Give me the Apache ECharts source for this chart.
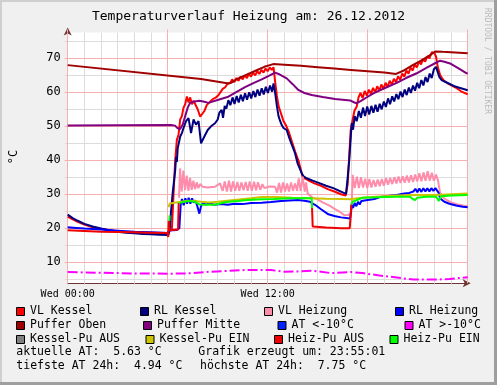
<!DOCTYPE html>
<html><head><meta charset="utf-8">
<script src="https://cdn.jsdelivr.net/npm/echarts@6/dist/echarts.min.js"></script>
<style>html,body{margin:0;padding:0;background:#F0F0F0}#c{width:497px;height:385px}</style>
</head><body><div id="c"></div>
<script>
// ---- data (x = hours since Wed 00:00, y = °C) ----
const titleText = 'Temperaturverlauf Heizung am: 26.12.2012';
const unitText = '°C';
const xLabelValues = [0, 12];
const xLabelTexts = ['Wed 00:00', 'Wed 12:00'];
const yLabelValues = [10, 20, 30, 40, 50, 60, 70];
const yMinorValues = [5, 10, 15, 20, 25, 30, 35, 40, 45, 50, 55, 60, 65, 70, 75];

const seriesNames = ['VL Kessel','RL Kessel','VL Heizung','RL Heizung','Puffer Oben','Puffer Mitte','AT <-10°C','AT >-10°C','Kessel-Pu AUS','Kessel-Pu EIN','Heiz-Pu AUS','Heiz-Pu EIN'];
const seriesColors = ['#FF0000','#000080','#FF8CAA','#0000FF','#A00000','#800080','#0022FF','#FF00FF','#808080','#CCC400','#EE0000','#00FF00'];

const vlKessel = [[0,23.4],[0.3,22.6],[0.6,21.9],[1,21.1],[1.5,20.3],[2,19.8],[2.5,19.4],[3,19.1],[3.5,18.9],[4,18.7],[4.5,18.6],[5,18.5],[5.5,18.4],[5.95,18.3],[6.1,19.5],[6.25,19.6],[6.35,30],[6.45,40],[6.55,46],[6.65,47.5],[6.75,52],[6.85,53],[6.95,55.5],[7.05,56.5],[7.15,58.8],[7.25,57],[7.35,58.5],[7.45,56.5],[7.55,57.5],[7.65,57.2],[7.8,55],[7.95,52.8],[8.05,53.2],[8.2,54.5],[8.35,56.3],[8.5,57],[8.7,58],[8.9,58.5],[9.05,59.2],[9.15,58.7],[9.3,61],[9.45,61.5],[9.6,62.6],[9.75,62.8],[9.87,63.8],[10,63],[10.12,64.2],[10.25,63.4],[10.37,64.6],[10.5,63.8],[10.62,65],[10.75,64.2],[10.87,65.4],[11,64.6],[11.12,65.8],[11.25,65],[11.37,66.2],[11.5,65.4],[11.62,66.6],[11.75,65.8],[11.87,67],[12,66.2],[12.12,67.3],[12.25,66.6],[12.35,67.4],[12.45,63],[12.55,59],[12.65,56],[12.75,54.5],[12.85,53],[12.95,51.5],[13.1,50.2],[13.25,48.6],[13.45,45.5],[13.65,42.5],[13.85,39.8],[14.0,37],[14.1,35],[14.2,34.8],[14.4,34.2],[14.8,33.2],[15.2,32.5],[15.6,31.5],[16.0,30.8],[16.4,30],[16.68,29.6],[16.8,33],[16.9,42],[16.98,48.9],[17.1,52],[17.2,54.5],[17.34,55.8],[17.45,58.5],[17.57,59.8],[17.7,58.3],[17.82,60.4],[17.95,59],[18.07,60.8],[18.2,59.5],[18.32,61.3],[18.45,60],[18.57,61.8],[18.7,60.5],[18.82,62.3],[18.95,61],[19.07,62.8],[19.2,61.6],[19.32,63.4],[19.45,62.3],[19.57,64],[19.7,63],[19.82,64.7],[19.95,63.7],[20.07,65.5],[20.2,64.6],[20.32,66.4],[20.45,65.5],[20.57,67.3],[20.7,66.4],[20.82,68.2],[20.95,67.3],[21.07,69],[21.2,68.2],[21.32,69.8],[21.45,69],[21.57,70.6],[21.7,70],[21.85,71.8],[22.0,71.6],[22.1,70.5],[22.2,67.5],[22.35,65],[22.54,63.6],[22.8,62.6],[23.1,61.8],[23.34,61.2],[23.6,60.3],[24,59.4]];

const rlKessel = [[0,24.0],[0.3,23.0],[0.6,22.2],[1,21.3],[1.5,20.5],[2,19.9],[2.5,19.4],[3,19.0],[3.5,18.7],[4,18.5],[4.5,18.3],[5,18.2],[5.5,18.1],[6.04,18.0],[6.12,19.5],[6.2,25],[6.3,30.5],[6.4,31],[6.45,37],[6.5,41],[6.55,39.5],[6.6,43.5],[6.7,44],[6.75,47],[6.85,48],[6.95,49.5],[7.1,51.5],[7.25,52.4],[7.4,48],[7.55,52],[7.7,50.5],[7.85,51.5],[8.0,45.0],[8.2,47],[8.4,48.9],[8.6,50],[8.84,50.9],[9.0,52],[9.1,54],[9.24,54.8],[9.32,52.5],[9.42,56],[9.52,55.2],[9.64,57.7],[9.76,56.2],[9.89,58.5],[10.01,56.6],[10.14,58.9],[10.26,57],[10.39,59.3],[10.51,57.4],[10.64,59.7],[10.76,57.8],[10.89,60],[11.01,58.2],[11.14,60.4],[11.26,58.6],[11.39,60.8],[11.51,59],[11.64,61.2],[11.76,59.4],[11.89,61.6],[12.01,59.8],[12.14,62],[12.26,60.2],[12.35,62.6],[12.45,59.7],[12.55,56],[12.65,53],[12.75,51.5],[12.85,50.3],[12.95,49.5],[13.14,48.9],[13.3,46.5],[13.45,44.5],[13.64,42.1],[13.8,39],[14.04,36.2],[14.15,35.3],[14.34,34.7],[14.7,34],[15.14,33.2],[15.5,32.5],[15.94,31.8],[16.3,31],[16.7,30.1],[16.8,35],[16.9,40.6],[17.0,48],[17.04,50.9],[17.12,49],[17.22,53],[17.34,51.5],[17.47,54.5],[17.59,52.5],[17.72,55.5],[17.84,53],[17.97,55.8],[18.09,53.5],[18.22,56],[18.34,54],[18.47,56.3],[18.59,54.3],[18.72,56.6],[18.84,55],[18.97,57.3],[19.09,55.7],[19.22,58.2],[19.34,56.5],[19.47,58.8],[19.59,57.3],[19.72,59.5],[19.84,58],[19.97,60.2],[20.09,58.6],[20.22,60.8],[20.34,59.2],[20.47,61.4],[20.59,59.8],[20.72,62],[20.84,60.5],[20.97,62.8],[21.09,61.2],[21.22,63.6],[21.34,62],[21.47,64.5],[21.59,63],[21.72,65.5],[21.84,64.2],[21.97,66.8],[22.1,67.5],[22.2,66],[22.3,64.5],[22.44,63.6],[22.64,63.1],[22.74,62.6],[23.2,61.8],[23.6,61.2],[24,60.6]];

const vlHeizung = [[6.68,29],[6.74,37.6],[6.84,30.8],[6.94,37],[7.04,31.2],[7.14,35.5],[7.24,31],[7.34,34.8],[7.44,31.3],[7.54,34],[7.64,31.5],[7.74,33.5],[7.84,31.8],[7.94,33],[8.1,32.2],[8.4,32],[8.84,32.2],[9.14,33.2],[9.3,31],[9.42,33.8],[9.55,30.8],[9.68,34],[9.8,30.8],[9.92,33.8],[10.05,31],[10.18,33.6],[10.3,31],[10.42,33.5],[10.55,31.2],[10.68,33.6],[10.8,31],[10.92,33.8],[11.05,31],[11.18,33.7],[11.3,31.2],[11.42,33.5],[11.55,31.3],[11.68,33],[11.8,31.8],[12.1,32.3],[12.44,32.2],[12.56,30.5],[12.68,33.3],[12.8,30.5],[12.92,33.5],[13.04,30.8],[13.16,33.2],[13.28,30.8],[13.4,33.5],[13.52,31],[13.64,33.2],[13.76,31],[13.86,34.7],[13.98,31],[14.1,35.2],[14.22,30.8],[14.3,33.5],[14.4,30.2],[14.55,29.6],[14.7,29],[14.94,28.6],[15.3,27.6],[15.74,26.6],[16.04,25.6],[16.34,24.8],[16.6,23.8],[16.84,23.9],[16.98,24.5],[17.04,27],[17.1,35.7],[17.22,31.8],[17.35,35.2],[17.47,31.8],[17.6,35],[17.72,32],[17.85,34.6],[17.97,31.8],[18.1,34.5],[18.22,32],[18.35,34.2],[18.47,32.2],[18.6,34.3],[18.72,32.4],[18.85,34.5],[18.97,32.5],[19.1,34.8],[19.22,32.8],[19.35,34.8],[19.47,33],[19.6,35],[19.72,33.2],[19.85,35.2],[19.97,33.3],[20.1,35.3],[20.22,33.4],[20.35,35.5],[20.47,33.5],[20.6,35.6],[20.72,33.6],[20.85,35.8],[20.97,33.8],[21.1,36.2],[21.22,33.8],[21.35,36.4],[21.47,34],[21.6,36.8],[21.72,34],[21.85,36.3],[21.97,34],[22.1,35.8],[22.22,34],[22.34,30.5],[22.5,29.2],[22.7,28.4],[23.0,27.6],[23.4,27],[23.8,26.6],[24,26.5]];

const rlHeizung = [[0,20.3],[0.5,20.1],[1,19.9],[2,19.6],[3,19.3],[4,19.0],[5,18.8],[6,18.6],[6.1,19.3],[6.3,19.4],[6.55,19.5],[6.7,20],[6.78,27],[6.86,28.6],[6.96,26.8],[7.06,28.8],[7.16,27.2],[7.26,29],[7.36,27.2],[7.46,28.8],[7.56,27.5],[7.66,28.2],[7.76,26.8],[7.9,24.3],[8.0,26.5],[8.1,27.3],[8.3,27.0],[8.5,27.3],[8.8,26.9],[9.2,27.1],[9.6,26.9],[10,27.2],[10.5,27.1],[11,27.4],[11.64,27.5],[12.2,27.7],[12.8,28.0],[13.3,28.2],[13.8,28.3],[14.2,28.1],[14.54,27.8],[14.7,27.2],[14.84,26.9],[15.2,25.6],[15.64,24.1],[16.0,23.6],[16.4,23.2],[16.94,22.9],[17.0,24.5],[17.04,26.9],[17.12,26],[17.22,27.4],[17.32,26.5],[17.42,27.8],[17.52,27],[17.62,28],[17.74,28.2],[18,28.3],[18.4,28.6],[18.74,29.2],[19.2,29.5],[19.74,29.8],[20.2,30.2],[20.5,30.4],[20.74,30.8],[20.86,31.6],[20.98,30.6],[21.1,31.7],[21.22,30.7],[21.34,31.8],[21.46,30.8],[21.58,31.8],[21.7,30.8],[21.82,31.8],[21.94,31],[22.06,31.8],[22.14,31.7],[22.25,30.5],[22.34,28.8],[22.6,27.8],[22.9,27.2],[23.3,26.7],[23.7,26.3],[24,26.2]];

const pufferOben = [[0,68.0],[8,63.9],[9.66,62.6],[9.8,62.8],[10.2,64],[10.64,65],[11.2,66.2],[11.8,67.5],[12.33,68.3],[13,68.1],[14,67.8],[15,67.4],[16,67.0],[17,66.6],[18,66.2],[19,65.8],[19.7,65.4],[20.2,66.5],[20.7,68],[21.2,69.3],[21.7,70.8],[22.05,72.0],[22.5,71.9],[23,71.8],[24,71.5]];

const pufferMitte = [[0,50.2],[3,50.3],[6.2,50.4],[6.44,50.2],[6.6,49.4],[6.75,49.2],[6.9,50.5],[7.05,53],[7.2,55.5],[7.34,56.9],[7.6,57.3],[7.9,57.5],[8.2,57.2],[8.44,56.9],[9.04,57.8],[9.64,58.7],[10.14,60.1],[10.64,61.5],[11.14,62.7],[11.64,63.8],[12.1,64.9],[12.44,65.8],[12.7,65.3],[13.14,64.1],[13.5,62.4],[13.84,60.7],[14.2,59.8],[14.64,59.2],[15.3,58.6],[16.04,58.0],[16.94,57.6],[17.2,57.0],[17.34,56.8],[17.6,57.5],[17.9,58.4],[18.34,59.7],[19.0,61.2],[19.74,62.8],[20.3,64.2],[20.94,65.6],[21.6,67.4],[22.1,68.7],[22.34,69.3],[22.6,69.0],[22.94,68.5],[23.4,67.2],[23.94,65.6],[24,65.5]];

const atBelow10 = [];
const atAbove10 = [[0,7.1],[1,7.0],[2,6.9],[3,6.8],[4,6.7],[5,6.7],[6,6.6],[7,6.7],[7.5,6.8],[8.5,7.2],[9.5,7.4],[10.6,7.7],[11.5,7.75],[12.2,7.7],[13,7.2],[13.8,7.3],[14.6,7.5],[15.2,7.2],[15.8,6.8],[16.5,7.0],[17,7.1],[17.7,6.8],[18.7,6.1],[19.74,5.5],[20.74,4.9],[21.5,4.94],[22.14,4.9],[22.9,5.1],[24,5.6]];

const kesselPuAus = [];
const kesselPuEin = [[6.05,26.2],[6.12,27.3],[6.5,27.6],[6.8,27.8],[7.2,28.1],[7.6,28.0],[8.0,27.8],[8.5,27.6],[9,27.8],[10,28.3],[11,28.8],[11.64,29.2],[12.5,29.2],[13.5,29.0],[14.6,28.8],[15.5,28.7],[16.5,28.6],[16.94,28.5],[17.5,28.9],[18.5,29.3],[19.74,29.6],[21,29.8],[22,29.8],[23,30.0],[24,30.2]];

const heizPuAus = [[0,19.4],[1,19.2],[2,19.0],[3,18.9],[4,18.8],[5,18.7],[6,18.6],[6.03,17.4],[6.06,22.2],[6.08,19.4],[6.3,19.5],[6.62,19.6],[6.66,27.4],[6.67,null],[14.66,26.0],[14.7,20.5],[15.5,20.2],[16.4,20.0],[16.92,20.0],[16.96,22.4],[17.02,27.0]];

const heizPuEin = [[6.1,22.2],[6.12,23.8],[6.13,null],[6.68,27.4],[6.8,27.6],[7.0,27.8],[7.3,28.0],[7.6,27.8],[7.9,27.0],[8.2,26.9],[8.84,26.9],[9.3,27.5],[9.64,27.8],[10.2,28.0],[10.8,28.3],[11.64,28.5],[12.4,28.6],[13.3,28.8],[14.0,28.8],[14.64,28.8],[14.66,26.0],[14.67,null],[17.02,27.0],[17.1,27.8],[17.4,28.4],[17.7,29.0],[18.5,29.1],[19.74,29.3],[20.54,29.3],[20.7,28.6],[20.84,28.3],[20.98,29.0],[21.5,29.3],[22.1,29.3],[22.2,28.6],[22.26,28.0],[22.4,29.4],[23,29.6],[24,29.8]];

const seriesData = [vlKessel, rlKessel, vlHeizung, rlHeizung, pufferOben, pufferMitte, atBelow10, atAbove10, kesselPuAus, kesselPuEin, heizPuAus, heizPuEin];

const infoLines = [
  ['aktuelle AT:  5.63 °C', 'Grafik erzeugt um: 23:55:01'],
  ['tiefste AT 24h:  4.94 °C', 'höchste AT 24h:  7.75 °C']
];
const watermark = 'RRDTOOL / TOBI OETIKER';

// ---- chart ----
const FONT = '"DejaVu Sans Mono", monospace';
const GREY = '#DCDCDC', RED = '#F6B0B0', AXIS = '#6E3434';
const chart = echarts.init(document.getElementById('c'), null, {renderer: 'canvas'});

const series = seriesNames.map((n, i) => ({
  name: n, type: 'line', data: seriesData[i], showSymbol: false, symbol: 'none',
  connectNulls: false, animation: false, z: 2 + i * 0.01,
  lineStyle: {color: seriesColors[i], width: 2, type: n === 'AT >-10°C' ? [10, 3, 2, 3] : 'solid'},
  itemStyle: {color: seriesColors[i]}
}));

const legendRows = [[16.5, 140.5, 264.5, 395.5], [16.5, 143.5, 278, 405], [16.5, 146, 274.5, 390]];
const legendY = [311.5, 325.5, 339.5];
const graphics = [];
graphics.push({type:'rect', left:0, top:0, shape:{width:497, height:2}, style:{fill:'#CFCFCF'}, silent:true});
graphics.push({type:'rect', left:0, top:0, shape:{width:2, height:385}, style:{fill:'#CFCFCF'}, silent:true});
graphics.push({type:'rect', left:494, top:0, shape:{width:3, height:385}, style:{fill:'#9E9E9E'}, silent:true});
graphics.push({type:'rect', left:0, top:382, shape:{width:497, height:3}, style:{fill:'#9E9E9E'}, silent:true});
seriesNames.forEach((n, i) => {
  const r = Math.floor(i / 4), c = i % 4;
  const bx = legendRows[r][c], cy = legendY[r];
  graphics.push({type:'rect', shape:{x:bx, y:cy - 4, width:8, height:8}, style:{fill:seriesColors[i], stroke:'#000', lineWidth:1}, silent:true});
  graphics.push({type:'text', x:bx + 13.5, y:cy, style:{text:n, font:'11.5px ' + FONT, fill:'#000', verticalAlign:'middle'}, silent:true});
});
infoLines.forEach((ln, r) => {
  const cy = 352.5 + r * 14;
  graphics.push({type:'text', x:16.3, y:cy, style:{text:ln[0], font:'11.5px ' + FONT, fill:'#000', verticalAlign:'middle'}, silent:true});
  graphics.push({type:'text', x:r === 0 ? 198.3 : 200, y:cy, style:{text:ln[1], font:'11.5px ' + FONT, fill:'#000', verticalAlign:'middle'}, silent:true});
});
graphics.push({type:'text', x:248.5, y:16.5, style:{text:titleText, font:'13px ' + FONT, fill:'#000', align:'center', verticalAlign:'middle'}, silent:true});
graphics.push({type:'text', x:13.5, y:157, rotation:Math.PI/2, style:{text:unitText, font:'12px ' + FONT, fill:'#000', align:'center', verticalAlign:'middle'}, silent:true});
graphics.push({type:'text', x:487.5, y:61, rotation:-Math.PI/2, style:{text:watermark, font:'8px ' + FONT, fill:'#BBBBBB', align:'center', verticalAlign:'middle'}, silent:true});

const option = {
  backgroundColor: '#F0F0F0',
  animation: false,
  grid: {left: 67.7, right: 29.3, top: 32.5, bottom: 101.7, show: true, backgroundColor: '#FFFFFF', borderWidth: 0, containLabel: false},
  xAxis: [
    {type:'value', min:0, max:24, interval:1, z:0,
     axisLine:{show:true, onZero:false, lineStyle:{color:AXIS, width:1}, symbol:['none','arrow'], symbolSize:[6,8], symbolOffset:[0,3]},
     axisTick:{show:true, length:2, inside:false, lineStyle:{color:GREY}},
     axisLabel:{show:true, margin:6, fontFamily:FONT, fontSize:10, color:'#000',
       formatter: v => { const k = xLabelValues.indexOf(v); return k >= 0 ? xLabelTexts[k] : ''; }},
     splitLine:{show:true, lineStyle:{color:GREY, width:1}}},
    {type:'value', min:0, max:24, interval:6, z:1,
     axisLine:{show:false}, axisTick:{show:true, length:3, lineStyle:{color:RED}}, axisLabel:{show:false},
     splitLine:{show:true, lineStyle:{color:RED, width:1}}}
  ],
  yAxis: [
    {type:'value', min:3.8, max:77.6, z:0,
     axisLine:{show:true, onZero:false, lineStyle:{color:AXIS, width:1}, symbol:['none','arrow'], symbolSize:[6,8], symbolOffset:[0,5]},
     axisTick:{show:true, length:3, customValues: yMinorValues, lineStyle:{color:GREY}},
     axisLabel:{show:true, margin:7, customValues: yLabelValues, fontFamily:FONT, fontSize:12, color:'#000'},
     splitLine:{show:true, lineStyle:{color:GREY, width:1}}},
    {type:'value', min:3.8, max:77.6, z:1, position:'left',
     axisLine:{show:false}, axisTick:{show:true, length:3, customValues: yLabelValues, lineStyle:{color:RED}}, axisLabel:{show:false},
     splitLine:{show:true, lineStyle:{color:RED, width:1}}}
  ],
  series: series,
  graphic: graphics
};
chart.setOption(option);
</script>
</body></html>
